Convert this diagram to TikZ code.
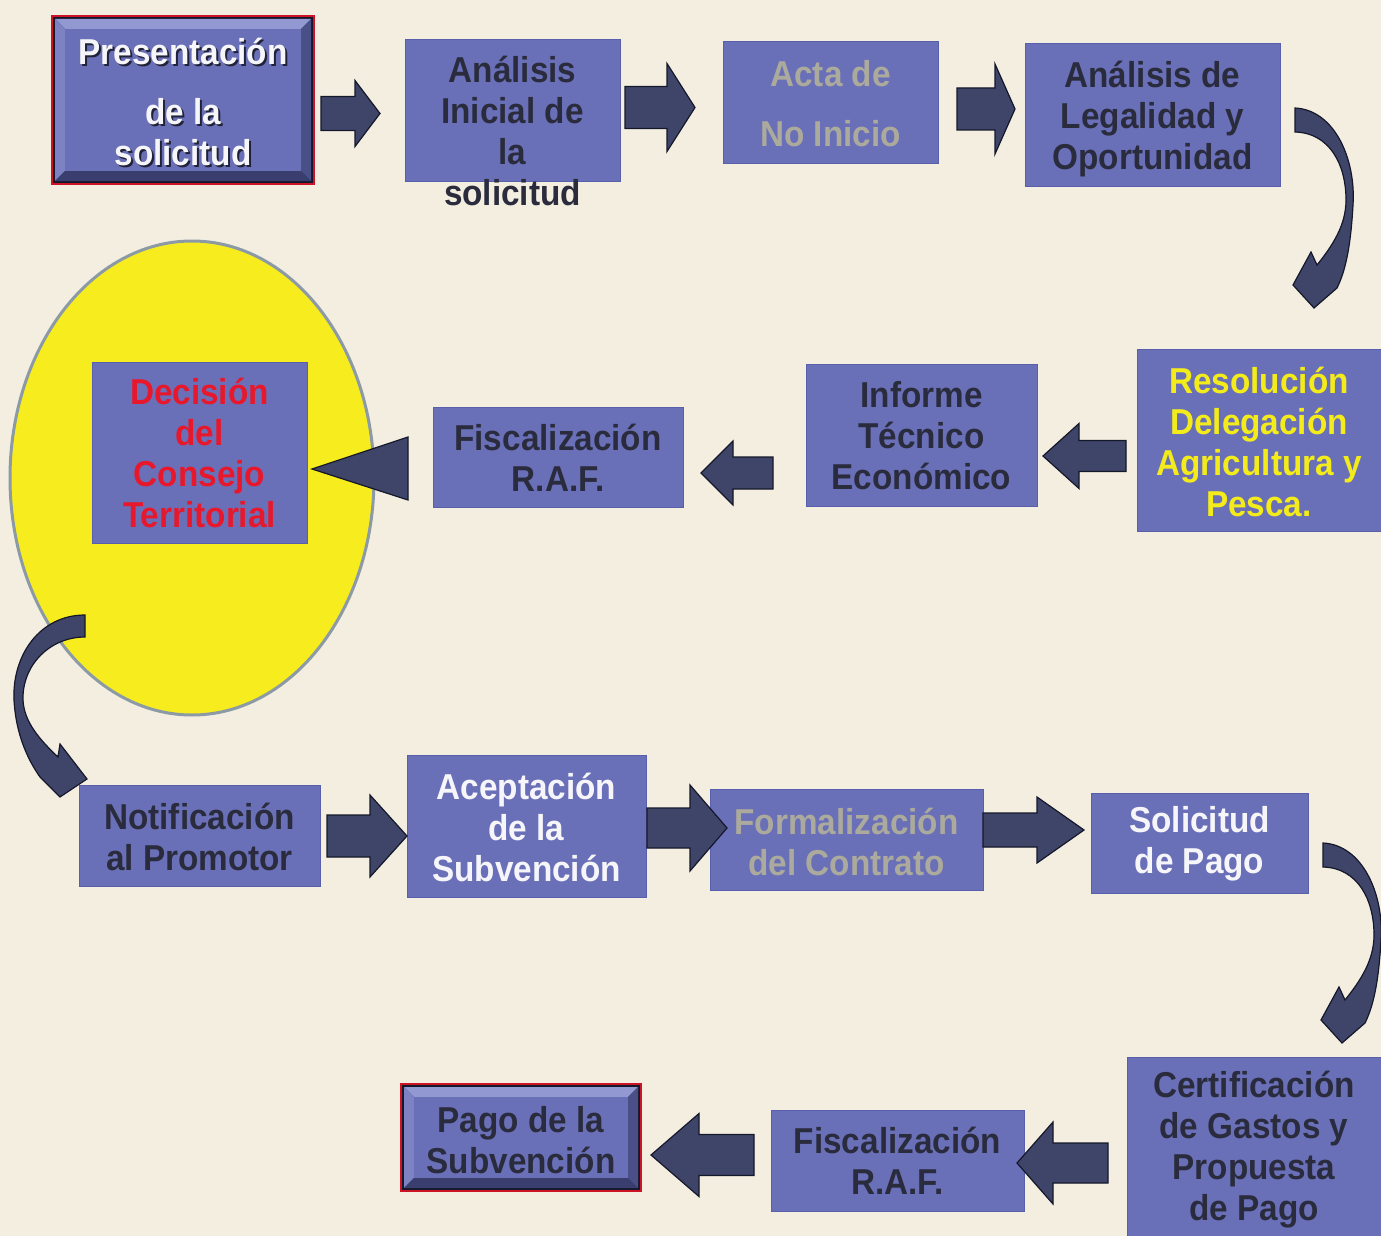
\documentclass[tikz,border=0pt]{standalone}
\usepackage{fontspec}
\usetikzlibrary{shapes.geometric}
\setmainfont{Liberation Sans}[FakeStretch=0.925]
\definecolor{bg}{HTML}{F3EEE0}
\definecolor{boxblue}{HTML}{6A70B8}
\definecolor{boxedge}{HTML}{5860AE}
\definecolor{darktext}{HTML}{2A2C3E}
\definecolor{whitetext}{HTML}{F6F6FA}
\definecolor{graytext}{HTML}{ABAA9C}
\definecolor{yellowtext}{HTML}{F4EC1A}
\definecolor{redtext}{HTML}{E8182C}
\definecolor{arrowfill}{HTML}{3E4569}
\definecolor{arrowedge}{HTML}{15172A}
\definecolor{ellfill}{HTML}{F6EC1E}
\definecolor{elledge}{HTML}{8C9AA6}
\definecolor{bevred}{HTML}{CC1426}
\definecolor{bevlight}{HTML}{9298D2}
\definecolor{bevleft}{HTML}{7C82C2}
\definecolor{bevdark}{HTML}{3A3E6E}
\definecolor{bevright}{HTML}{4A4F88}
\newcommand\blockarr[6]{%
  \filldraw[arr] (#1,#4-#5) -- (#2,#4-#5) -- (#2,#4-#6) -- (#3,#4) -- (#2,#4+#6) -- (#2,#4+#5) -- (#1,#4+#5) -- cycle;}
\newcommand\bevelbox[4]{%
  \fill[arrowedge] (#1,#2) rectangle (#3,#4);
  \fill[bevlight] (#1+3,#2+3) -- (#3-3,#2+3) -- (#3-13,#2+13) -- (#1+13,#2+13) -- cycle;
  \fill[bevleft] (#1+3,#2+3) -- (#1+13,#2+13) -- (#1+13,#4-13) -- (#1+3,#4-3) -- cycle;
  \fill[bevdark] (#1+3,#4-3) -- (#1+13,#4-13) -- (#3-13,#4-13) -- (#3-3,#4-3) -- cycle;
  \fill[bevright] (#3-3,#2+3) -- (#3-3,#4-3) -- (#3-13,#4-13) -- (#3-13,#2+13) -- cycle;
  \fill[boxblue] (#1+13,#2+13) rectangle (#3-13,#4-13);
  \draw[bevred, line width=2.5pt] (#1,#2) rectangle (#3,#4);}
\newcommand\rightcurve{%
  \filldraw[arr] (1295,108) .. controls (1335,110) and (1356,160) .. (1353,205)
    .. controls (1351,240) and (1347,268) .. (1337,288) -- (1314,308) -- (1293,285) -- (1311,252) -- (1317,265)
    .. controls (1333,245) and (1346,225) .. (1346,200)
    .. controls (1346,165) and (1330,133) .. (1295,132) -- cycle;}
\begin{document}
\begin{tikzpicture}[x=1pt,y=-1pt,
  box/.style={rectangle, fill=boxblue, draw=boxedge, line width=1pt, inner sep=0pt},
  plain/.style={rectangle, inner sep=0pt},
  txt/.style={align=center, inner sep=0pt, font=\fontsize{36}{41}\selectfont\bfseries},
  arr/.style={fill=arrowfill, draw=arrowedge, line width=1.2pt, line join=miter}]
\useasboundingbox (0,0) rectangle (1381,1236);
\clip (0,0) rectangle (1381,1236);
\fill[bg] (0,0) rectangle (1381,1236);

% ---- row 1
\node[plain, minimum width=262pt, minimum height=168pt] (b1) at (183,100) {};
\bevelbox{52}{16}{314}{184}
\node[txt, text=black!70!boxblue] at (185,104) {Presentación\\[19pt]de la\\solicitud};
\node[txt, text=whitetext] (t1) at (183,102) {Presentación\\[19pt]de la\\solicitud};

\node[box, minimum width=215pt, minimum height=141pt] (b2) at (512.5,110.5) {};
\node[txt, text=darktext] (t2) at (512.5,131) {Análisis\\Inicial de\\la\\solicitud};

\node[box, minimum width=215pt, minimum height=121pt] (b3) at (830.5,102.5) {};
\node[txt, text=graytext] (t3) at (830.5,104) {Acta de\\[19pt]No Inicio};

\node[box, minimum width=255pt, minimum height=142pt] (b4) at (1152.5,115) {};
\node[txt, text=darktext] (t4) at (1152.5,119) {Análisis de\\Legalidad y\\Oportunidad};

\blockarr{321}{355}{380}{113.5}{17}{33}
\blockarr{625}{667}{695}{107.5}{21}{44}
\blockarr{957}{995}{1015}{109}{21}{45}

% curved arrow 1
\rightcurve

% ---- row 2
\node[ellipse, fill=ellfill, draw=elledge, line width=3pt, minimum width=364pt, minimum height=474pt, inner sep=0pt] (ell) at (192,478) {};
\node[box, minimum width=215pt, minimum height=181pt] (b8) at (199.5,452.5) {};
\node[txt, text=redtext] (t8) at (199.5,453) {Decisión\\del\\Consejo\\Territorial};

\node[box, minimum width=244pt, minimum height=182pt] (b5) at (1259,440) {};
\node[txt, text=yellowtext] (t5) at (1259,442) {Resolución\\Delegación\\Agricultura y\\Pesca.};

\node[box, minimum width=231pt, minimum height=142pt] (b6) at (921.5,435) {};
\node[txt, text=darktext] (t6) at (921.5,436) {Informe\\Técnico\\Económico};

\node[box, minimum width=250pt, minimum height=100pt] (b7) at (558,457) {};
\node[txt, text=darktext] (t7) at (558,458) {Fiscalización\\R.A.F.};

\blockarr{1126}{1079}{1043}{456}{15.5}{32.5}
\blockarr{773}{733}{701}{473}{16}{32}
\filldraw[arr] (408,437) -- (408,500) -- (312,469) -- cycle;

% curved arrow 2
\filldraw[arr] (85,615) .. controls (40,615) and (12,655) .. (14,700)
  .. controls (16,735) and (28,760) .. (40,777) -- (60,797) -- (87,779) -- (60,744) -- (58,757)
  .. controls (40,740) and (24,722) .. (23,700)
  .. controls (22,665) and (50,637) .. (85,637) -- cycle;

% ---- row 3
\node[box, minimum width=241pt, minimum height=101pt] (b9) at (199.5,835.5) {};
\node[txt, text=darktext] (t9) at (199.5,837) {Notificación\\al Promotor};

\node[box, minimum width=239pt, minimum height=142pt] (b10) at (526.5,826) {};
\node[txt, text=whitetext] (t10) at (526.5,827) {Aceptación\\de la\\Subvención};

\node[box, minimum width=273pt, minimum height=101pt] (b11) at (846.5,839.5) {};
\node[txt, text=graytext] (t11) at (846.5,842) {Formalización\\del Contrato};

\node[box, minimum width=217pt, minimum height=100pt] (b12) at (1199.5,843) {};
\node[txt, text=whitetext] (t12) at (1199.5,844) {Solicitud\\de Pago};

\blockarr{327}{370}{407}{836}{21}{41}
\blockarr{647}{690}{727}{828}{20}{43}
\blockarr{983}{1037}{1084}{830}{17}{33}

% curved arrow 3
\begin{scope}[shift={(28,735)}]
\rightcurve
\end{scope}

% ---- row 4
\node[box, minimum width=254pt, minimum height=179pt] (b13) at (1254,1146.5) {};
\node[txt, text=darktext] (t13) at (1254,1150) {Certificación\\de Gastos y\\Propuesta\\de Pago};

\node[box, minimum width=253pt, minimum height=101pt] (b14) at (897.5,1160.5) {};
\node[txt, text=darktext] (t14) at (897.5,1161) {Fiscalización\\R.A.F.};

\node[plain, minimum width=240pt, minimum height=107pt] (b15) at (521,1137.5) {};
\bevelbox{401}{1084}{641}{1191}
\node[txt, text=darktext] (t15) at (521,1140) {Pago de la\\Subvención};

\blockarr{1108}{1053}{1017}{1163}{20}{41}
\blockarr{754}{699}{651}{1155}{20.5}{41.5}
\end{tikzpicture}
\end{document}
